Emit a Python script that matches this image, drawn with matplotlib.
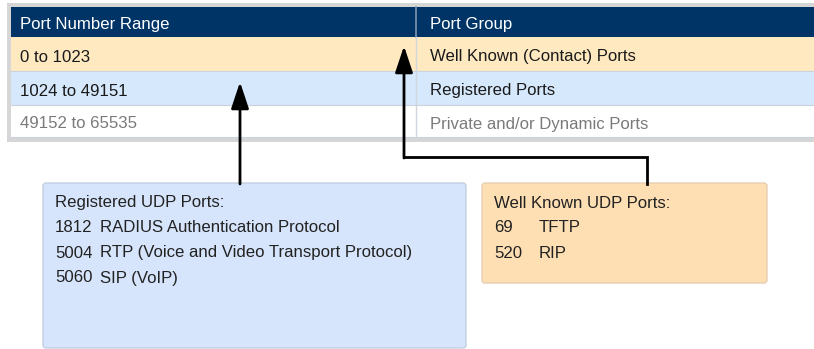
import matplotlib.pyplot as plt
from matplotlib.patches import Rectangle, FancyBboxPatch

# donnees du tableau
headers = ['Port Number Range', 'Port Group']
port_ranges = ['0 to 1023', '1024 to 49151', '49152 to 65535']
port_groups = ['Well Known (Contact) Ports', 'Registered Ports', 'Private and/or Dynamic Ports']

# contenu des encadres
registered_title = 'Registered UDP Ports:'
registered_ports = ['1812', '5004', '5060']
registered_names = ['RADIUS Authentication Protocol',
                    'RTP (Voice and Video Transport Protocol)',
                    'SIP (VoIP)']
wellknown_title = 'Well Known UDP Ports:'
wellknown_ports = ['69', '520']
wellknown_names = ['TFTP', 'RIP']

plt.rcParams['font.family'] = ['Liberation Sans', 'DejaVu Sans']
FS = 12.1

fig = plt.figure(figsize=(8.14, 3.49), dpi=100)
ax = fig.add_axes([0, 0, 1, 1])
ax.set_xlim(0, 814)
ax.set_ylim(349, 0)
ax.axis('off')

# cadre gris du tableau
ax.add_patch(Rectangle((7, 3), 815, 139, facecolor='#d6d6d6', edgecolor='none'))
ax.add_patch(Rectangle((11, 7), 815, 131, facecolor='white', edgecolor='none'))

# en-tete
ax.add_patch(Rectangle((11, 7), 815, 30, facecolor='#003466', edgecolor='none'))
col_x = [20, 430]
for cx, h in zip(col_x, headers):
    ax.text(cx, 24, h, color='white', fontsize=FS, va='center', ha='left')

# lignes
row_top = [37, 71, 105]
row_h = [34, 34, 32]
row_colors = ['#ffe9c1', '#d6e8fb', 'white']
text_colors = ['#1a1a1a', '#1a1a1a', '#7a7a7a']
for i in range(len(port_ranges)):
    ax.add_patch(Rectangle((11, row_top[i]), 815, row_h[i], facecolor=row_colors[i],
                           edgecolor='none'))
    ax.plot([11, 814], [row_top[i] + row_h[i], row_top[i] + row_h[i]],
            color='#c9d3dd', lw=0.8)
    yc = row_top[i] + row_h[i] / 2 + 3
    ax.text(col_x[0], yc, port_ranges[i], color=text_colors[i], fontsize=FS, va='center')
    ax.text(col_x[1], yc, port_groups[i], color=text_colors[i], fontsize=FS, va='center')

# separateur de colonnes
ax.plot([416, 416], [7, 37], color='#8096b0', lw=1.2)
ax.plot([416, 416], [37, 137], color='#d0d6de', lw=1.0)

# fleches
ax.annotate('', xy=(240, 82), xytext=(240, 184),
            arrowprops=dict(arrowstyle='-|>,head_length=0.9,head_width=0.3', color='black',
                            lw=2, mutation_scale=18, shrinkA=0, shrinkB=0))
ax.plot([647, 647, 404], [184, 157, 157], color='black', lw=2, solid_joinstyle='miter')
ax.annotate('', xy=(404, 46), xytext=(404, 158),
            arrowprops=dict(arrowstyle='-|>,head_length=0.9,head_width=0.3', color='black',
                            lw=2, mutation_scale=18, shrinkA=0, shrinkB=0))

# encadre bleu
ax.add_patch(FancyBboxPatch((43, 183), 423, 165, boxstyle='round,pad=0,rounding_size=3',
                            facecolor='#d6e5fb', edgecolor='#c2cfe0', lw=1))
ax.text(55, 203, registered_title, color='#222222', fontsize=FS, va='center')
for i in range(len(registered_ports)):
    y = 228 + 25 * i
    ax.text(55, y, registered_ports[i], color='#222222', fontsize=FS, va='center')
    ax.text(100, y, registered_names[i], color='#222222', fontsize=FS, va='center')

# encadre orange
ax.add_patch(FancyBboxPatch((482, 183), 285, 100, boxstyle='round,pad=0,rounding_size=3',
                            facecolor='#fedfb4', edgecolor='#e6cfb0', lw=1))
ax.text(494, 203, wellknown_title, color='#222222', fontsize=FS, va='center')
for i in range(len(wellknown_ports)):
    y = 228 + 25 * i
    ax.text(494, y, wellknown_ports[i], color='#222222', fontsize=FS, va='center')
    ax.text(539, y, wellknown_names[i], color='#222222', fontsize=FS, va='center')

fig.savefig('out.png', dpi=100)
